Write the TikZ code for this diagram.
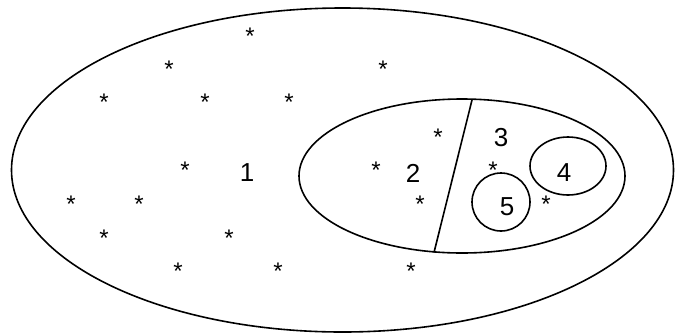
\documentclass[tikz,border=0pt]{standalone}
\usepackage{fontspec}
\setmainfont{Liberation Sans}
\begin{document}
\begin{tikzpicture}[x=1pt,y=-1pt,line width=1.6pt,
  region/.style={draw=black},
  lbl/.style={inner sep=0pt,font=\fontsize{26}{30}\selectfont},
  star/.style={inner sep=0pt,anchor=north,font=\fontsize{24}{28}\selectfont}]
\useasboundingbox (0,0) rectangle (675,333);
% regions
\coordinate (c1) at (342.5,170);
\coordinate (c2) at (462,176);
\coordinate (c4) at (568,166);
\coordinate (c5) at (501,202);
\draw[region] (c1) ellipse [x radius=331,y radius=162];
\draw[region] (c2) ellipse [x radius=163,y radius=77];
\draw[region] (c4) ellipse [x radius=38,y radius=29];
\draw[region] (c5) circle [radius=29];
\coordinate (dtop) at (472,100);
\coordinate (dbot) at (434,252.5);
\draw[region] (dtop) -- (dbot);
% labels
\node[lbl] (l1) at (247,173) {1};
\node[lbl] (l2) at (413,173) {2};
\node[lbl] (l3) at (501,138) {3};
\node[lbl] (l4) at (564,173) {4};
\node[lbl] (l5) at (507,207) {5};
% asterisks
\foreach \x/\y [count=\i] in {250/31,169/64,104/97,205/97,289/97,185/165,71/199,139/199,104/233,229/233,178/266,278/266,383/64,438/132,376/165,420/199,411/266,493/165,546/199}
  \node[star] (s\i) at (\x,\y-4) {*};
\end{tikzpicture}
\end{document}
